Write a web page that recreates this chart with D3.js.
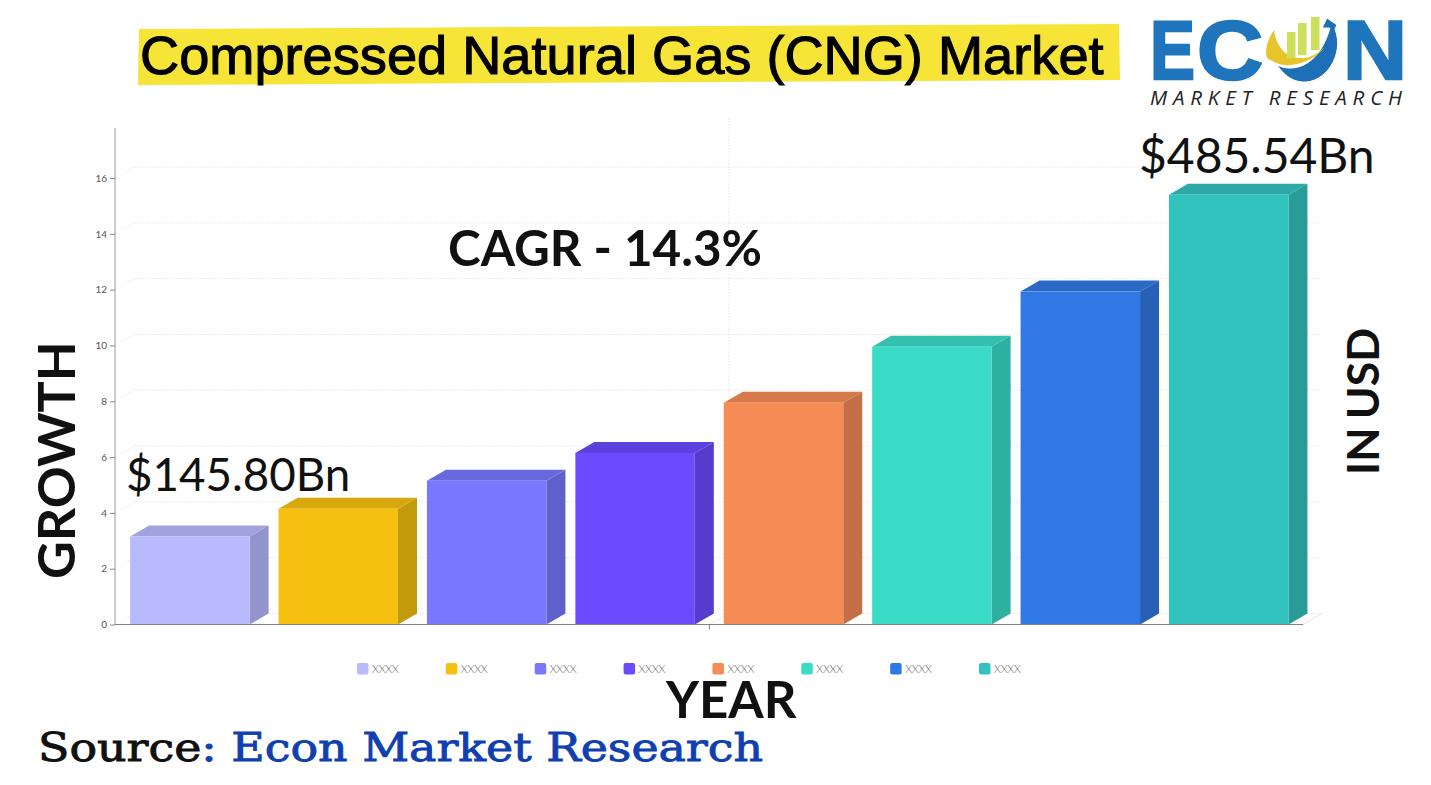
<!DOCTYPE html>
<html>
<head>
<meta charset="utf-8">
<script src="https://cdn.jsdelivr.net/npm/d3@7"></script>
<style>
  body { margin: 0; background: #fff; }
  svg { display: block; }
  text { font-family: Lato, sans-serif; }
</style>
</head>
<body>
<svg id="chart"></svg>
<script>
const categories = ['A', 'B', 'C', 'D', 'E', 'F', 'G', 'H'];
const values = [3.15, 4.15, 5.15, 6.15, 7.95, 9.95, 11.93, 15.4];
const colors = ['#b9b9ff', '#f5c010', '#7878ff', '#6a4bff', '#f58c55', '#3adcc8', '#3278e4', '#33c3bf'];
const yTicks = [0, 2, 4, 6, 8, 10, 12, 14, 16];
const legendLabels = ['XXXX', 'XXXX', 'XXXX', 'XXXX', 'XXXX', 'XXXX', 'XXXX', 'XXXX'];

const svgWidth = 1431, svgHeight = 785;
const depthX = 19, depthY = 11;
const left = 115, right = 1303, bottom = 624.5;

const svg = d3.select('#chart')
  .attr('width', svgWidth)
  .attr('height', svgHeight);

const xScale = d3.scaleBand()
  .domain(categories)
  .range([left + 0.3, right + 0.3])
  .paddingInner(0.195)
  .paddingOuter(0.1);

const yScale = d3.scaleLinear()
  .domain([0, 16])
  .range([bottom, 178]);

// -------------------------- title ------------------------------
svg.append('path')
  .attr('d', 'M139,29 L1119,24 L1120,80 L138,85 Z')
  .style('fill', '#f6e436');

svg.append('text')
  .attr('x', 140)
  .attr('y', 74)
  .text('Compressed Natural Gas (CNG) Market')
  .style('font-family', '"Liberation Sans"')
  .style('font-size', '54.2px')
  .style('stroke', '#000')
  .style('stroke-width', 1.1)
  .style('fill', '#000');

// -------------------------- grid ------------------------------
const grid = svg.append('g');

grid.selectAll('line.wall')
  .data(yTicks)
  .enter()
  .append('line')
  .attr('x1', left + depthX)
  .attr('x2', right + depthX)
  .attr('y1', d => yScale(d) - depthY)
  .attr('y2', d => yScale(d) - depthY)
  .style('stroke', '#dedede')
  .style('stroke-width', 0.8)
  .style('stroke-dasharray', '1.5 1.5');

grid.selectAll('line.side')
  .data(yTicks)
  .enter()
  .append('line')
  .attr('x1', left)
  .attr('x2', left + depthX)
  .attr('y1', d => yScale(d))
  .attr('y2', d => yScale(d) - depthY)
  .style('stroke', '#e4e4e4')
  .style('stroke-width', 0.8)
  .style('stroke-dasharray', '1.5 1.5');

grid.append('line')
  .attr('x1', 729).attr('x2', 729)
  .attr('y1', 118).attr('y2', bottom - depthY)
  .style('stroke', '#e0e0e0')
  .style('stroke-width', 0.8)
  .style('stroke-dasharray', '1.5 1.5');

grid.append('line')
  .attr('x1', 729).attr('x2', 710)
  .attr('y1', bottom - depthY).attr('y2', bottom)
  .style('stroke', '#e4e4e4')
  .style('stroke-width', 0.8);

grid.append('line')
  .attr('x1', right).attr('x2', right + depthX)
  .attr('y1', bottom).attr('y2', bottom - depthY)
  .style('stroke', '#dcdcdc')
  .style('stroke-width', 0.8);

// -------------------------- bars ------------------------------
const bars = svg.selectAll('g.bar')
  .data(categories)
  .enter()
  .append('g')
  .attr('class', 'bar');

bars.append('path')
  .attr('d', (d, i) => {
    const x = xScale(d) + xScale.bandwidth(), y = yScale(values[i]);
    return `M${x},${y} l${depthX},${-depthY} L${x + depthX},${bottom - depthY} L${x},${bottom} Z`;
  })
  .style('fill', (d, i) => d3.color(colors[i]).darker(0.62));

bars.append('path')
  .attr('d', (d, i) => {
    const x = xScale(d), y = yScale(values[i]), w = xScale.bandwidth();
    return `M${x},${y} l${depthX},${-depthY} h${w} l${-depthX},${depthY} Z`;
  })
  .style('fill', (d, i) => d3.color(colors[i]).darker(0.38));

bars.append('rect')
  .attr('x', d => xScale(d))
  .attr('y', (d, i) => yScale(values[i]))
  .attr('width', xScale.bandwidth())
  .attr('height', (d, i) => bottom - yScale(values[i]))
  .style('fill', (d, i) => colors[i]);

// -------------------------- axes ------------------------------
const yAxis = d3.axisLeft(yScale)
  .tickValues(yTicks)
  .tickSize(5)
  .tickPadding(3);

const yG = svg.append('g')
  .attr('transform', `translate(${left},0)`)
  .call(yAxis);
yG.select('.domain').remove();
yG.selectAll('line').style('stroke', '#888');
yG.selectAll('text')
  .style('font-size', '10px')
  .style('fill', '#555');

svg.append('line')
  .attr('x1', left).attr('x2', left)
  .attr('y1', 128).attr('y2', bottom)
  .style('stroke', '#999');

svg.append('line')
  .attr('x1', left).attr('x2', right)
  .attr('y1', bottom).attr('y2', bottom)
  .style('stroke', '#808080');

svg.append('line')
  .attr('x1', 709.5).attr('x2', 709.5)
  .attr('y1', bottom).attr('y2', bottom + 5)
  .style('stroke', '#888');

// -------------------------- legend ------------------------------
const legendScale = d3.scalePoint()
  .domain(d3.range(legendLabels.length))
  .range([357, 979]);

const legend = svg.selectAll('g.legend')
  .data(legendLabels)
  .enter()
  .append('g')
  .attr('class', 'legend')
  .attr('transform', (d, i) => `translate(${legendScale(i)},663)`);

legend.append('rect')
  .attr('width', 11.5)
  .attr('height', 11.5)
  .attr('rx', 2)
  .style('fill', (d, i) => colors[i]);

legend.append('text')
  .attr('x', 15)
  .attr('y', 10)
  .text(d => d)
  .style('font-size', '11px')
  .style('font-weight', 300)
  .style('letter-spacing', '-0.2px')
  .style('fill', '#666');

// -------------------------- labels ------------------------------
const bigLabel = (x, y, str, size, weight) => svg.append('text')
  .attr('x', x)
  .attr('y', y)
  .text(str)
  .style('font-size', size + 'px')
  .style('font-weight', weight)
  .style('fill', '#111');

bigLabel(1139, 173, '$485.54Bn', 48, 400);
bigLabel(126, 491, '$145.80Bn', 45.7, 400);
bigLabel(448, 266, 'CAGR - 14.3%', 49.4, 700);
bigLabel(666, 718, 'YEAR', 51, 700);
bigLabel(75, 579, 'GROWTH', 52, 700)
  .attr('transform', 'rotate(-90 75 579)');
bigLabel(1379, 475, 'IN USD', 44.5, 700)
  .attr('transform', 'rotate(-90 1379 475)')
  .style('word-spacing', '-2.5px');

const source = svg.append('text')
  .attr('x', 38)
  .attr('y', 761)
  .attr('textLength', 725)
  .attr('lengthAdjust', 'spacingAndGlyphs')
  .style('font-family', '"DejaVu Serif"')
  .style('font-size', '40px')
  .style('stroke-width', 0.9);
source.append('tspan').text('Source').style('fill', '#111').style('stroke', '#111');
source.append('tspan').text(': Econ Market Research').style('fill', '#0f3fb0').style('stroke', '#0f3fb0');

// -------------------------- logo ------------------------------
const logo = svg.append('g');
const logoBlue = '#1f75bc';

const logoLetter = (x, str, len) => logo.append('text')
  .attr('x', x)
  .attr('y', 79)
  .attr('textLength', len)
  .attr('lengthAdjust', 'spacingAndGlyphs')
  .text(str)
  .style('font-family', '"Liberation Sans"')
  .style('font-weight', 700)
  .style('font-size', '84px')
  .style('stroke', logoBlue)
  .style('stroke-width', 2.5)
  .style('fill', logoBlue);

logoLetter(1150, 'E', 45);
logoLetter(1197, 'C', 66);
logoLetter(1343, 'N', 64);

// swoosh around the bars
logo.append('path')
  .attr('d', 'M1277,65 C1290,72 1318,70 1330,28 L1322,28 L1327,18 L1337,25 L1335,29 C1345,55 1325,84 1302,82 C1291,81 1283,74 1277,65 Z')
  .style('fill', '#1d6fb8')
  .style('stroke', '#fff')
  .style('stroke-width', 1);

logo.append('path')
  .attr('d', 'M1274,30 C1266,42 1265,52 1267,58 C1275,63 1282,66 1290,65 C1305,64 1318,56 1325,47 C1316,55 1308,59 1300,58 C1288,58 1276,48 1274,30 Z')
  .style('fill', '#e8c42c');

logo.selectAll('rect.logobar')
  .data([[1287, 32, 26], [1298, 23, 32], [1311, 17, 33]])
  .enter()
  .append('rect')
  .attr('x', d => d[0])
  .attr('y', d => d[1])
  .attr('width', 8.5)
  .attr('height', d => d[2])
  .style('fill', '#cde05c');

logo.append('text')
  .attr('x', 1150)
  .attr('y', 105)
  .attr('textLength', 252)
  .text('MARKET RESEARCH')
  .style('font-family', '"Open Sans"')
  .style('font-style', 'italic')
  .style('font-size', '20.5px')
  .style('fill', '#222');
</script>
</body>
</html>
